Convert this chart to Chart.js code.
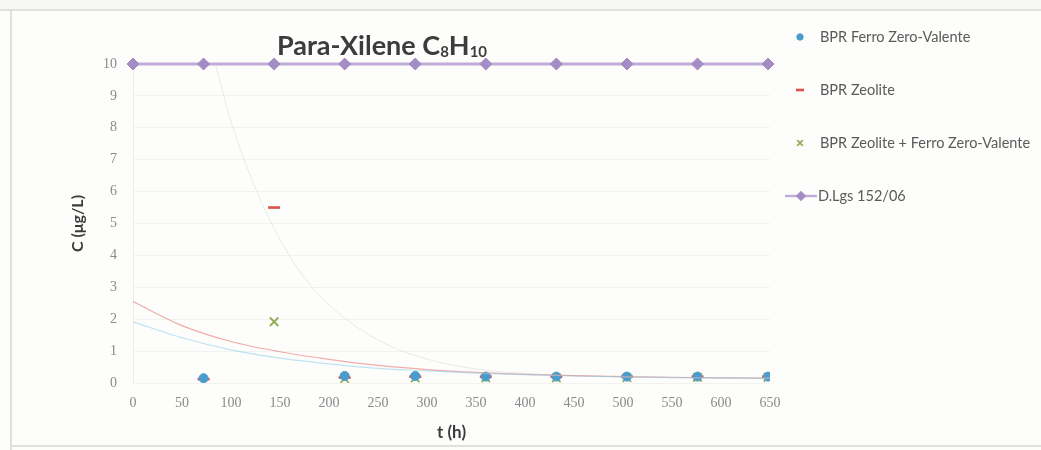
<!DOCTYPE html>
<html>
<head>
<meta charset="utf-8">
<title>Para-Xilene C8H10</title>
<script src="https://cdn.jsdelivr.net/npm/chart.js@4.4.1/dist/chart.umd.min.js"></script>
<style>
  html, body { margin: 0; padding: 0; background: #ffffff; }
  #wrap { position: relative; width: 1041px; height: 450px; }
</style>
</head>
<body>
<div id="wrap"><canvas id="chart"></canvas></div>
<script>
// Sampling times (h) and measured concentrations (µg/L)
const hours = [72, 144, 216, 288, 360, 432, 504, 576, 648];
const ferroZV = [0.15, null, 0.22, 0.22, 0.2, 0.2, 0.2, 0.2, 0.2];
const zeolite = [0.12, 5.5, 0.17, 0.2, 0.2, 0.2, 0.2, 0.2, 0.2];
const zeoliteFerro = [null, 1.92, 0.14, 0.16, 0.16, 0.16, 0.17, 0.18, 0.18];

// Regulatory limit D.Lgs 152/06
const limitHours = [0, 72, 144, 216, 288, 360, 432, 504, 576, 648];
const limitValues = [10, 10, 10, 10, 10, 10, 10, 10, 10, 10];

// Trend curves, read at fixed times
const trendHours = [0, 50, 100, 150, 200, 250, 300, 350, 400, 450, 500, 550, 600, 650];
const ferroTrend = [1.92, 1.42, 1.04, 0.78, 0.6, 0.46, 0.38, 0.31, 0.26, 0.22, 0.19, 0.17, 0.16, 0.15];
const zeoliteTrend = [2.55, 1.8, 1.3, 0.98, 0.74, 0.55, 0.42, 0.33, 0.27, 0.23, 0.2, 0.18, 0.16, 0.15];
const mixTrendHours = [84, 100, 125, 150, 175, 200, 250, 300, 350, 400, 450, 500, 550, 600, 650];
const mixTrend = [10, 8.2, 6.1, 4.5, 3.3, 2.45, 1.35, 0.75, 0.44, 0.3, 0.23, 0.19, 0.17, 0.16, 0.15];

// Axis ticks
const xTicks = [0, 50, 100, 150, 200, 250, 300, 350, 400, 450, 500, 550, 600, 650];
const yTicks = [0, 1, 2, 3, 4, 5, 6, 7, 8, 9, 10];

const seriesNames = ['BPR Ferro Zero-Valente', 'BPR Zeolite', 'BPR Zeolite + Ferro Zero-Valente', 'D.Lgs 152/06'];

const BLUE = '#4a9ccc';
const RED = '#e0504a';
const GREEN = '#93ad52';
const PURPLE = '#a48cc4';
const PURPLE_LINE = '#c0acd8';

function pairs(xs, ys) {
  return xs.map((x, i) => ({ x: x, y: ys[i] })).filter(p => p.y !== null);
}

const trendStyle = {
  type: 'line', pointRadius: 0, pointHoverRadius: 0, borderWidth: 1.2,
  cubicInterpolationMode: 'monotone', fill: false, showLine: true
};

const datasets = [
  Object.assign({}, trendStyle, { label: 'trend-ferro', data: pairs(trendHours, ferroTrend), borderColor: 'rgba(140,205,235,0.55)' }),
  Object.assign({}, trendStyle, { label: 'trend-zeolite', data: pairs(trendHours, zeoliteTrend), borderColor: 'rgba(232,120,115,0.6)' }),
  Object.assign({}, trendStyle, { label: 'trend-mix', data: pairs(mixTrendHours, mixTrend), borderColor: 'rgba(205,205,195,0.4)', borderWidth: 1 }),
  {
    type: 'line', label: seriesNames[3], data: pairs(limitHours, limitValues), clip: false,
    borderColor: PURPLE_LINE, borderWidth: 2.8, pointStyle: 'rectRot', pointRadius: 6,
    pointBackgroundColor: PURPLE, pointBorderColor: PURPLE, pointBorderWidth: 1, tension: 0
  },
  {
    type: 'scatter', label: seriesNames[0], data: pairs(hours, ferroZV),
    pointStyle: 'circle', pointRadius: 4.5, pointBackgroundColor: BLUE, pointBorderColor: BLUE, pointBorderWidth: 1
  },
  {
    type: 'scatter', label: seriesNames[1], data: pairs(hours, zeolite),
    pointStyle: 'line', pointRadius: 6, pointBorderColor: RED, pointBackgroundColor: RED, pointBorderWidth: 2.6
  },
  {
    type: 'scatter', label: seriesNames[2], data: pairs(hours, zeoliteFerro),
    pointStyle: 'crossRot', pointRadius: 6, pointBorderColor: GREEN, pointBackgroundColor: GREEN, pointBorderWidth: 1.8
  }
];

// Frame, title and legend drawn on the canvas
const decorations = {
  id: 'decorations',
  beforeDraw(chart) {
    const ctx = chart.ctx;
    ctx.save();
    ctx.fillStyle = '#fdfdfb';
    ctx.fillRect(0, 0, chart.width, chart.height);
    ctx.fillStyle = '#f6f6f4';
    ctx.fillRect(0, 0, chart.width, 9);
    ctx.strokeStyle = '#d6d6d4';
    ctx.lineWidth = 1.5;
    ctx.beginPath();
    ctx.moveTo(0, 10); ctx.lineTo(chart.width, 10);
    ctx.moveTo(11, 10); ctx.lineTo(11, chart.height);
    ctx.moveTo(11, 446); ctx.lineTo(chart.width, 446);
    ctx.stroke();
    ctx.restore();
  },
  afterDraw(chart) {
    const ctx = chart.ctx;
    ctx.save();
    // Title with subscripts
    const big = 'bold 27px Lato';
    const small = 'bold 15px Lato';
    const parts = [['Para-Xilene C', big, 0], ['8', small, 2], ['H', big, 0], ['10', small, 2]];
    let total = 0;
    parts.forEach(p => { ctx.font = p[1]; total += ctx.measureText(p[0]).width; });
    let x = 382 - total / 2;
    ctx.fillStyle = '#3c3c3c';
    ctx.textBaseline = 'alphabetic';
    ctx.textAlign = 'left';
    parts.forEach(p => {
      ctx.font = p[1];
      ctx.fillText(p[0], x, 55 + p[2]);
      x += ctx.measureText(p[0]).width;
    });

    // Legend
    const H = Chart.helpers;
    const rows = [37, 90, 143, 196];
    const order = [4, 5, 6, 3];
    ctx.font = '14.5px Lato';
    ctx.textBaseline = 'middle';
    order.forEach((di, i) => {
      const ds = chart.data.datasets[di];
      const y = rows[i];
      if (ds.type === 'line') {
        ctx.strokeStyle = ds.borderColor;
        ctx.lineWidth = 2.4;
        ctx.beginPath();
        ctx.moveTo(785, y); ctx.lineTo(817, y);
        ctx.stroke();
        ctx.fillStyle = ds.pointBackgroundColor;
        ctx.strokeStyle = ds.pointBorderColor;
        H.drawPoint(ctx, { pointStyle: 'rectRot', radius: 3.5, borderWidth: 1, rotation: 0 }, 801, y);
        ctx.fillStyle = '#5a5a5a';
        ctx.fillText(ds.label, 818, y);
      } else {
        ctx.fillStyle = ds.pointBackgroundColor;
        ctx.strokeStyle = ds.pointBorderColor;
        ctx.lineWidth = ds.pointBorderWidth;
        const r = ds.pointStyle === 'circle' ? 3.2 : 4;
        H.drawPoint(ctx, { pointStyle: ds.pointStyle, radius: r, borderWidth: ds.pointBorderWidth * 0.8, rotation: 0 }, 800, y);
        ctx.fillStyle = '#5a5a5a';
        ctx.fillText(ds.label, 820, y);
      }
    });
    ctx.restore();
  }
};

new Chart(document.getElementById('chart'), {
  type: 'scatter',
  data: { datasets: datasets },
  options: {
    responsive: true,
    maintainAspectRatio: false,
    animation: false,
    events: [],
    layout: { padding: { left: 0, top: 64, right: 271, bottom: 0 } },
    plugins: { legend: { display: false }, title: { display: false }, tooltip: { enabled: false } },
    scales: {
      x: {
        type: 'linear', min: 0, max: 650,
        afterBuildTicks(scale) { scale.ticks = xTicks.map(v => ({ value: v })); },
        afterFit(scale) { scale.height = 67; },
        grid: { display: false, drawTicks: false },
        border: { display: false },
        ticks: { padding: 12, color: '#8a8a8a', font: { family: 'Liberation Serif', size: 14 }, maxRotation: 0 },
        title: { display: true, text: 't (h)', color: '#3c3c3c', font: { family: 'Lato', size: 17, weight: 'bold' }, padding: { top: 0, bottom: 7 } }
      },
      y: {
        type: 'linear', min: 0, max: 10,
        afterBuildTicks(scale) { scale.ticks = yTicks.map(v => ({ value: v })); },
        afterFit(scale) { scale.width = 133; },
        grid: { color: '#f2f2f0', lineWidth: 1, drawTicks: false },
        border: { display: true, color: '#ececea', width: 1 },
        ticks: { padding: 16, color: '#8a8a8a', font: { family: 'Liberation Serif', size: 14 } },
        title: { display: true, text: 'C (μg/L)', color: '#3c3c3c', font: { family: 'Lato', size: 16, weight: 'bold' }, padding: { top: 68, bottom: 0 } }
      }
    }
  },
  plugins: [decorations]
});
</script>
</body>
</html>
